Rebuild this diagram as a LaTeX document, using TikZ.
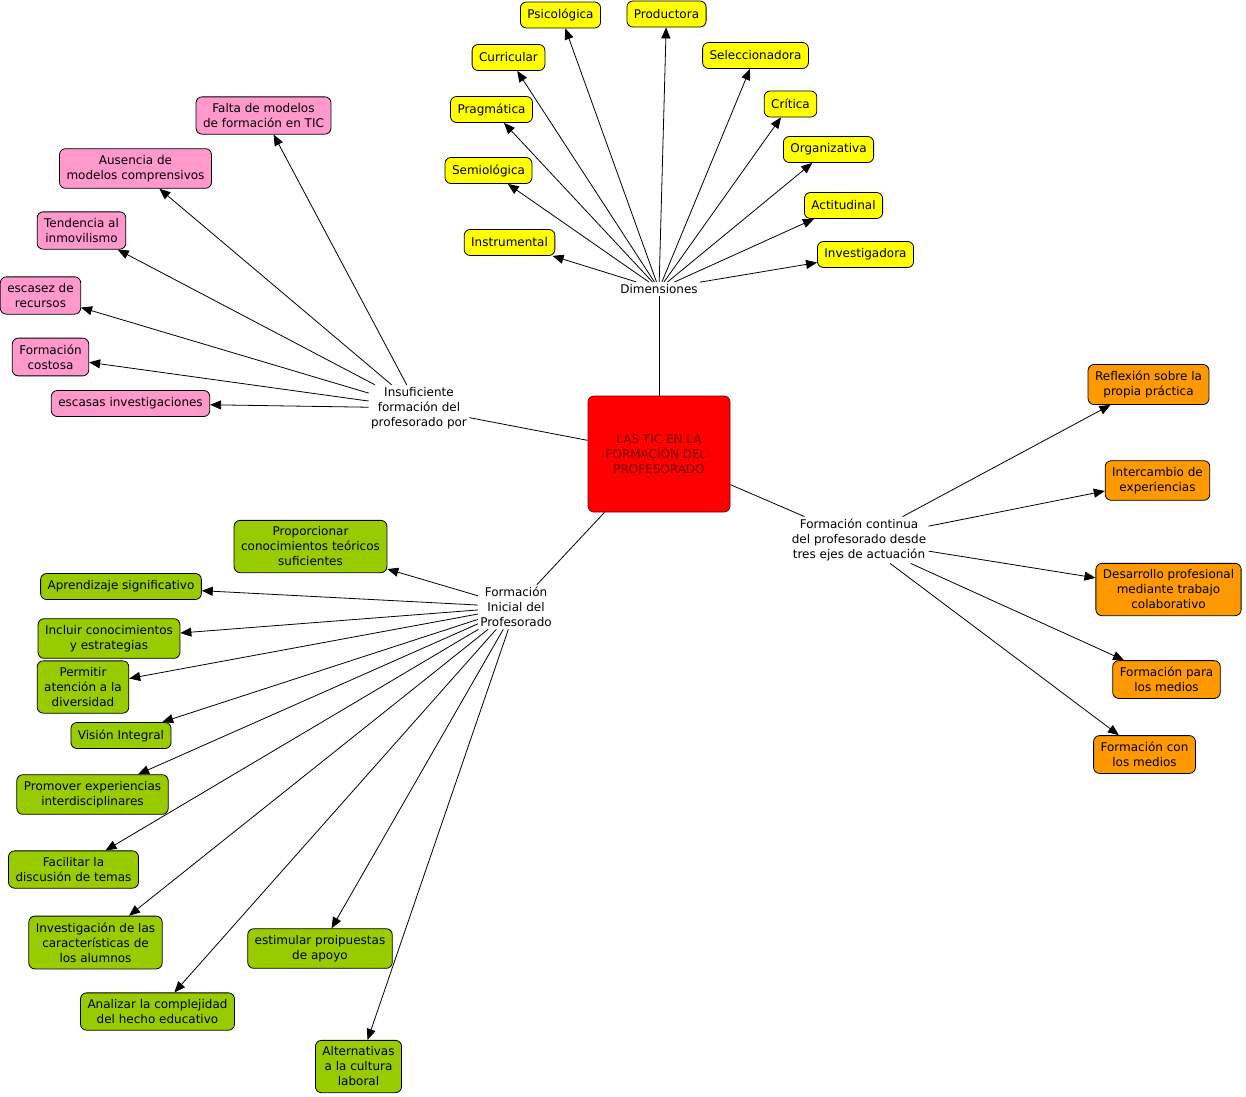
\documentclass[tikz,border=0pt]{standalone}
\usepackage{fontspec}
\setmainfont{DejaVu Sans}
\usetikzlibrary{arrows.meta}
\definecolor{amarillo}{HTML}{FFFF00}
\definecolor{rosa}{HTML}{FF99CC}
\definecolor{verde}{HTML}{99CC00}
\definecolor{naranja}{HTML}{FF9900}
\definecolor{rojo}{HTML}{FF0000}
\definecolor{granate}{HTML}{700000}
\begin{document}
\begin{tikzpicture}[
        x=1pt, y=-1pt,
        font=\fontsize{12}{15}\selectfont,
        >={Triangle[length=11pt,width=9pt]},
        line width=0.8pt,
        caja/.style={
            draw,
            line width=0.8pt,
            rounded corners=6pt,
            align=center,
            inner xsep=7pt,
            inner ysep=6.5pt,
            minimum height=26pt
        },
        dimension/.style={caja, fill=amarillo},
        causa/.style={caja, fill=rosa},
        objetivo/.style={caja, fill=verde},
        eje/.style={caja, fill=naranja},
        enlace/.style={
            align=center,
            inner sep=2pt
        },
        tema/.style={
            draw=granate,
            fill=rojo,
            text=granate,
            rounded corners=6pt,
            align=center,
            minimum width=142pt,
            minimum height=116pt
        }
    ]
    \useasboundingbox (0,0) rectangle (1246,1096);
    % Tema central
    \node[tema] (tic) at (659,454) {LAS TIC EN LA\\FORMACIÓN DEL\textasciigrave\\PROFESORADO};
    % Enlaces
    \node[enlace] (dim) at (659,289) {Dimensiones};
    \node[enlace] (insuf) at (419,408) {Insuficiente\\formación del\\profesorado por};
    \node[enlace] (inicial) at (516,607) {Formación\\Inicial del\\Profesorado};
    \node[enlace] (continua) at (859,540) {Formación continua\\del profesorado desde\\tres ejes de actuación};
    \draw (tic) -- (dim);
    \draw (tic) -- (insuf);
    \draw (tic) -- (inicial);
    \draw (tic) -- (continua);
    % Dimensiones
    \node[dimension] (psico) at (560.5,15) {Psicológica};
    \node[dimension] (produc) at (666.5,14) {Productora};
    \node[dimension] (curri) at (508.5,57.5) {Curricular};
    \node[dimension] (selec) at (755.5,55.5) {Seleccionadora};
    \node[dimension] (pragma) at (491.5,109.5) {Pragmática};
    \node[dimension] (critica) at (790.5,104) {Crítica};
    \node[dimension] (organi) at (828.5,149.5) {Organizativa};
    \node[dimension] (semio) at (488.5,170.5) {Semiológica};
    \node[dimension] (actitud) at (843.5,205.5) {Actitudinal};
    \node[dimension] (instru) at (509.5,242.5) {Instrumental};
    \node[dimension] (investi) at (865.5,254.5) {Investigadora};
    \draw[->] (dim) -- (psico);
    \draw[->] (dim) -- (produc);
    \draw[->] (dim) -- (curri);
    \draw[->] (dim) -- (selec);
    \draw[->] (dim) -- (pragma);
    \draw[->] (dim) -- (critica);
    \draw[->] (dim) -- (organi);
    \draw[->] (dim) -- (semio);
    \draw[->] (dim) -- (actitud);
    \draw[->] (dim) -- (instru);
    \draw[->] (dim) -- (investi);
    % Causas
    \node[causa] (falta) at (263.5,115.5) {Falta de modelos\\de formación en TIC};
    \node[causa] (ausencia) at (135.5,168.5) {Ausencia de\\modelos comprensivos};
    \node[causa] (tendencia) at (81.5,230.5) {Tendencia al\\inmovilismo};
    \node[causa] (escasez) at (40.5,295.5) {escasez de\\recursos};
    \node[causa] (costosa) at (50.5,357) {Formación\\costosa};
    \node[causa] (escasas) at (130.5,403.5) {escasas investigaciones};
    \draw[->] (insuf) -- (falta);
    \draw[->] (insuf) -- (ausencia);
    \draw[->] (insuf) -- (tendencia);
    \draw[->] (insuf) -- (escasez);
    \draw[->] (insuf) -- (costosa);
    \draw[->] (insuf) -- (escasas);
    % Formacion inicial
    \node[objetivo] (proporc) at (310.5,546.5) {Proporcionar\\conocimientos teóricos\\suficientes};
    \node[objetivo] (aprend) at (121,586.5) {Aprendizaje significativo};
    \node[objetivo] (incluir) at (109,638.5) {Incluir conocimientos\\y estrategias};
    \node[objetivo] (permitir) at (83,687) {Permitir\\atención a la\\diversidad};
    \node[objetivo] (vision) at (121,735.5) {Visión Integral};
    \node[objetivo] (promover) at (92.5,794.5) {Promover experiencias\\interdisciplinares};
    \node[objetivo] (facilitar) at (73.5,869.5) {Facilitar la\\discusión de temas};
    \node[objetivo] (investig) at (95.5,942.5) {Investigación de las\\características de\\los alumnos};
    \node[objetivo] (estimular) at (320,948.5) {estimular proipuestas\\de apoyo};
    \node[objetivo] (analizar) at (157.5,1011.5) {Analizar la complejidad\\del hecho educativo};
    \node[objetivo] (altern) at (358.5,1066.5) {Alternativas\\a la cultura\\laboral};
    \draw[->] (inicial) -- (proporc);
    \draw[->] (inicial) -- (aprend);
    \draw[->] (inicial) -- (incluir);
    \draw[->] (inicial) -- (permitir);
    \draw[->] (inicial) -- (vision);
    \draw[->] (inicial) -- (promover);
    \draw[->] (inicial) -- (facilitar);
    \draw[->] (inicial) -- (investig);
    \draw[->] (inicial) -- (estimular);
    \draw[->] (inicial) -- (analizar);
    \draw[->] (inicial) -- (altern);
    % Formacion continua
    \node[eje] (reflex) at (1148.5,384.5) {Reflexión sobre la\\propia práctica};
    \node[eje] (interc) at (1157.5,480.5) {Intercambio de\\experiencias};
    \node[eje] (desarr) at (1168.5,589.5) {Desarrollo profesional\\mediante trabajo\\colaborativo};
    \node[eje] (para) at (1166.5,679.5) {Formación para\\los medios};
    \node[eje] (con) at (1144.5,754.5) {Formación con\\los medios};
    \draw[->] (continua) -- (reflex);
    \draw[->] (continua) -- (interc);
    \draw[->] (continua) -- (desarr);
    \draw[->] (continua) -- (para);
    \draw[->] (continua) -- (con);
\end{tikzpicture}
\end{document}
